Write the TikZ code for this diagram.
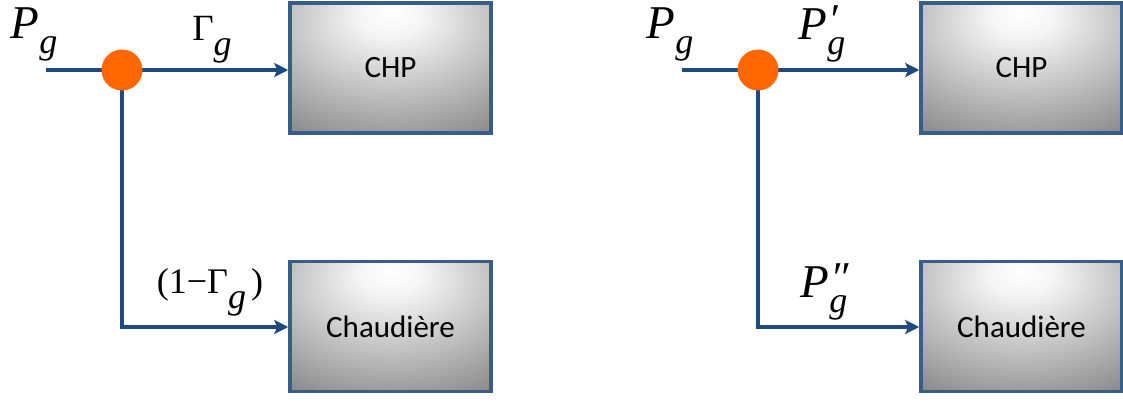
\documentclass[tikz,border=0pt]{standalone}
\usepackage{fontspec}
\setmainfont{Liberation Serif}
\newfontfamily\boxfont{Carlito}
\usetikzlibrary{arrows.meta}
\definecolor{flowblue}{HTML}{1F4A80}
\definecolor{boxedge}{HTML}{385D8A}
\definecolor{dotorange}{HTML}{FF6600}
\pgfdeclareradialshading{boxshade}{\pgfpoint{0bp}{22bp}}{color(0bp)=(white); color(8bp)=(white!96!black); color(48bp)=(black!50); color(100bp)=(black!50)}
\tikzset{
  procbox/.style={draw=boxedge, line width=3.5pt, shading=boxshade, minimum width=201pt, minimum height=130pt, inner sep=0pt, font=\boxfont\fontsize{31}{36}\selectfont},
  junction/.style={circle, fill=dotorange, minimum size=41pt, inner sep=0pt},
  flow/.style={draw=flowblue, line width=3.8pt},
  flowarrow/.style={flow, -{Stealth[length=14pt,width=14pt,inset=3pt]}},
  lbl/.style={inner sep=0pt}
}
\newcommand{\bigP}{{\fontsize{47}{50}\selectfont\itshape P}}
\newcommand{\subg}{\raisebox{-15pt}{\fontsize{36}{38}\selectfont\itshape g}}
\newcommand{\primemark}[1]{\rlap{\raisebox{5pt}{\fontsize{44}{44}\selectfont\itshape\kern1pt #1}}}
\begin{document}
\begin{tikzpicture}[x=1pt,y=-1pt]
\useasboundingbox (0,0) rectangle (1123,402);
% boxes
\node[procbox] (chpL) at (390.5,68) {CHP};
\node[procbox] (chL) at (390.5,326.5) {Chaudière};
\node[procbox] (chpR) at (1021.5,68) {CHP};
\node[procbox] (chR) at (1021.5,326.5) {Chaudière};
% left flows
\coordinate (inL) at (46,70);
\coordinate (jL) at (122,70);
\draw[flow] (inL) -- (jL);
\draw[flowarrow] (jL) -- (jL -| chpL.west);
\draw[flowarrow] (jL) |- (chL.west |- 0,327);
\node[junction] (dotL) at (jL) {};
% right flows
\coordinate (inR) at (682,70);
\coordinate (jR) at (758,70);
\draw[flow] (inR) -- (jR);
\draw[flowarrow] (jR) -- (jR -| chpR.west);
\draw[flowarrow] (jR) |- (chR.west |- 0,327);
\node[junction] (dotR) at (jR) {};
% labels
\node[lbl] (pgL) at (34,34) {\bigP\subg};
\node[lbl] (gamma) at (212,40) {{\fontsize{37}{40}\selectfont Γ}\subg};
\node[lbl] (onemg) at (210,292) {{\fontsize{36}{38}\selectfont(1−Γ}\subg{\fontsize{36}{38}\selectfont\kern5pt)}};
\node[lbl] (pgR) at (670,34) {\bigP\subg};
\node[lbl] (pgp) at (822,34) {\bigP\primemark{′}\subg};
\node[lbl] (pgpp) at (824,292) {\bigP\primemark{″}\subg};
\end{tikzpicture}
\end{document}
